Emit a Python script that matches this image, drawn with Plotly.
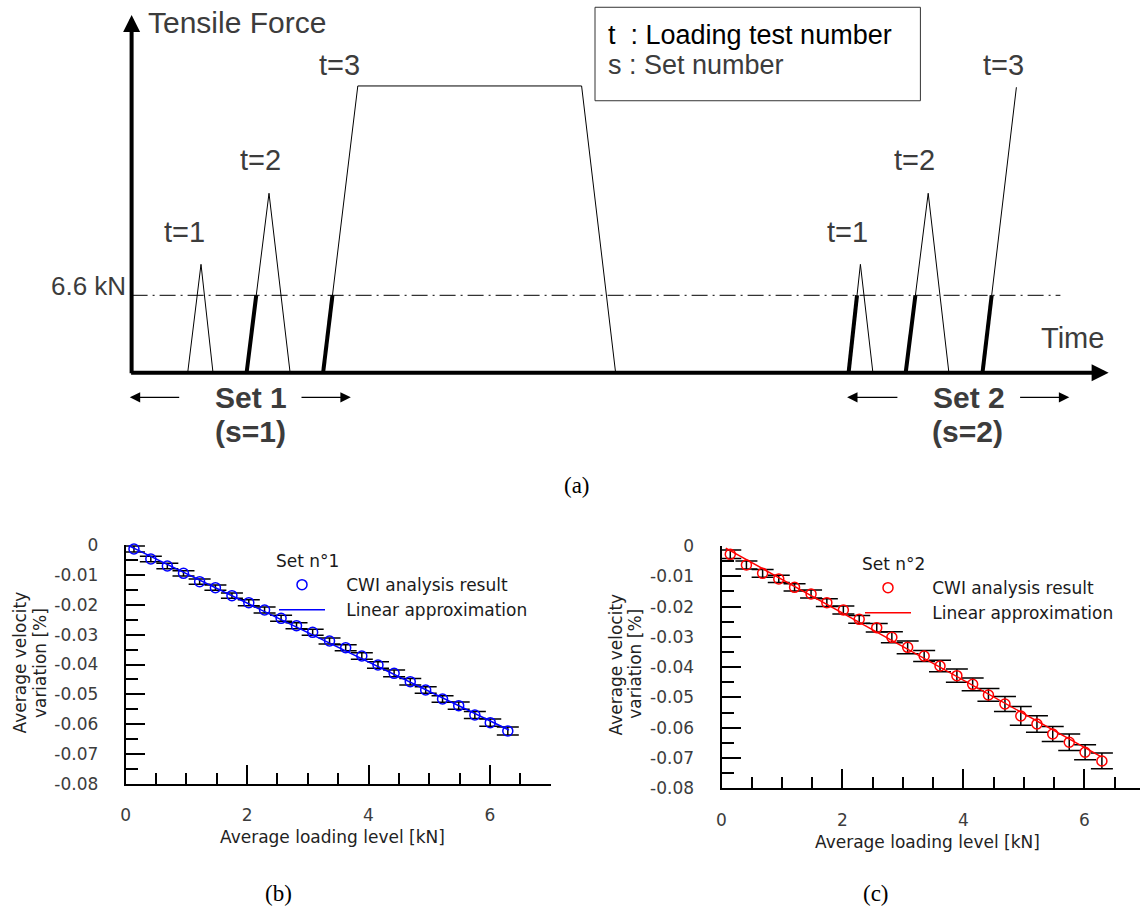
import numpy as np
import plotly.graph_objects as go

W, H = 1140, 911

# ---------------- (a) schematic loading history ----------------
# time in arbitrary units, force in kN-like units
threshold_kN = 6.6
set1_t1_time = [5.61, 6.94, 8.14]
set1_t1_force = [0, 9.24, 0]
set1_t2_time = [11.50, 13.74, 15.85]
set1_t2_force = [0, 15.30, 0]
set1_t3_time = [19.15, 22.62, 45.00, 48.40]
set1_t3_force = [0, 24.45, 24.45, 0]
set2_t1_time = [71.70, 72.88, 74.13]
set2_t1_force = [0, 9.24, 0]
set2_t2_time = [77.41, 79.66, 81.73]
set2_t2_force = [0, 15.30, 0]
set2_t3_time = [85.09, 88.48]
set2_t3_force = [0, 24.34]
threshold_time_end = 92.88

# ---------------- (b), (c) CWI results ----------------
load_set1 = [0.136, 0.414, 0.686, 0.952, 1.218, 1.478, 1.750, 2.028, 2.288, 2.560,
             2.814, 3.080, 3.358, 3.624, 3.890, 4.156, 4.422, 4.688, 4.942, 5.220,
             5.486, 5.752, 6.006, 6.295]
vel_set1 = [-0.00134, -0.00469, -0.00703, -0.00948, -0.01227, -0.01428, -0.01696,
            -0.01930, -0.02176, -0.02455, -0.02700, -0.02923, -0.03213, -0.03437,
            -0.03715, -0.04017, -0.04296, -0.04575, -0.04854, -0.05155, -0.05378,
            -0.05690, -0.05947, -0.06226]
err_set1 = [0.0010, 0.0009, 0.0009, 0.0009, 0.0009, 0.0009, 0.0009, 0.0010, 0.0010,
            0.0010, 0.0010, 0.0010, 0.0010, 0.0010, 0.0011, 0.0011, 0.0011, 0.0011,
            0.0011, 0.0011, 0.0012, 0.0012, 0.0012, 0.0013]
fit_set1_x = [0.047, 6.313]
fit_set1_y = [-0.00022, -0.06193]

load_set2 = [0.145, 0.412, 0.680, 0.947, 1.208, 1.481, 1.742, 2.015, 2.277, 2.567,
             2.817, 3.078, 3.351, 3.613, 3.892, 4.153, 4.414, 4.687, 4.949, 5.216,
             5.477, 5.750, 6.012, 6.290]
vel_set2 = [-0.00275, -0.00627, -0.00902, -0.01089, -0.01365, -0.01585, -0.01871,
            -0.02113, -0.02421, -0.02696, -0.03015, -0.03345, -0.03631, -0.03961,
            -0.04281, -0.04567, -0.04919, -0.05216, -0.05612, -0.05876, -0.06206,
            -0.06481, -0.06811, -0.07098]
err_set2 = [0.0014, 0.0013, 0.0013, 0.0012, 0.0012, 0.0013, 0.0013, 0.0013, 0.0013,
            0.0014, 0.0018, 0.0021, 0.0018, 0.0019, 0.0022, 0.0021, 0.0021, 0.0025,
            0.0031, 0.0027, 0.0025, 0.0027, 0.0025, 0.0026]
fit_set2_x = [0.07, 6.29]
fit_set2_y = [-0.0007, -0.0697]

y_tickvals = [0, -0.01, -0.02, -0.03, -0.04, -0.05, -0.06, -0.07, -0.08]
y_ticktext = ["0", "-0.01", "-0.02", "-0.03", "-0.04", "-0.05", "-0.06", "-0.07", "-0.08"]
x_tickvals = [0, 2, 4, 6]
x_ticktext = ["0", "2", "4", "6"]

SANS = "Liberation Sans"
DV = "DejaVu Sans"
GRAY = "#3c3c3c"
PAD = "\u00a0\u00a0\u00a0"  # visual gap between legend symbol and its label

fig = go.Figure()

# ---- schematic traces ----
tests = [
    (set1_t1_time, set1_t1_force, False),
    (set1_t2_time, set1_t2_force, True),
    (set1_t3_time, set1_t3_force, True),
    (set2_t1_time, set2_t1_force, True),
    (set2_t2_time, set2_t2_force, True),
    (set2_t3_time, set2_t3_force, True),
]
fig.add_trace(go.Scatter(x=[0, threshold_time_end], y=[threshold_kN, threshold_kN],
                         mode="lines", line=dict(color="black", width=1, dash="16px,5px,2px,5px"),
                         xaxis="x3", yaxis="y3", showlegend=False, hoverinfo="skip"))
for tm, fc, thick in tests:
    fig.add_trace(go.Scatter(x=tm, y=fc, mode="lines", line=dict(color="black", width=1),
                             xaxis="x3", yaxis="y3", showlegend=False, hoverinfo="skip"))
    if thick:
        t_cross = float(np.interp(threshold_kN, fc[:2], tm[:2]))
        fig.add_trace(go.Scatter(x=[tm[0], t_cross], y=[fc[0], threshold_kN], mode="lines",
                                 line=dict(color="black", width=4),
                                 xaxis="x3", yaxis="y3", showlegend=False, hoverinfo="skip"))

# ---- CWI plots ----
fig.add_trace(go.Scatter(
    x=load_set1, y=vel_set1, mode="markers", name=PAD + "CWI analysis result",
    marker=dict(symbol="circle-open", size=10, color="#0000ff", line=dict(width=1.5)),
    error_y=dict(type="data", array=err_set1, color="black", thickness=1.5, width=11),
    xaxis="x", yaxis="y", legend="legend", cliponaxis=False))
fig.add_trace(go.Scatter(
    x=fit_set1_x, y=fit_set1_y, mode="lines", name=PAD + "Linear approximation",
    line=dict(color="#0000ff", width=1.5), xaxis="x", yaxis="y", legend="legend"))
fig.add_trace(go.Scatter(
    x=load_set2, y=vel_set2, mode="markers", name=PAD + "CWI analysis result",
    marker=dict(symbol="circle-open", size=10, color="#ff0000", line=dict(width=1.5)),
    error_y=dict(type="data", array=err_set2, color="black", thickness=1.5, width=11),
    xaxis="x2", yaxis="y2", legend="legend2", cliponaxis=False))
fig.add_trace(go.Scatter(
    x=fit_set2_x, y=fit_set2_y, mode="lines", name=PAD + "Linear approximation",
    line=dict(color="#ff0000", width=1.5), xaxis="x2", yaxis="y2", legend="legend2"))


def xaxis_style(domain, rng, anchor):
    return dict(domain=domain, range=rng, anchor=anchor, showline=True, linecolor="black",
                linewidth=2, ticks="inside", ticklen=19, tickwidth=2, tickcolor="black",
                tickmode="array", tickvals=x_tickvals, ticktext=x_ticktext,
                tickfont=dict(family=DV, size=17, color=GRAY), ticklabelstandoff=15,
                minor=dict(ticks="inside", ticklen=11, tickwidth=2, tickcolor="black",
                           tickmode="array", tickvals=list(np.arange(0.5, 7.01, 0.5))),
                showgrid=False, zeroline=False, fixedrange=True, automargin=False)


def yaxis_style(domain, anchor):
    return dict(domain=domain, range=[-0.08, 0], anchor=anchor, showline=True,
                linecolor="black", linewidth=2, ticks="inside", ticklen=19, tickwidth=2,
                tickcolor="black", tickmode="array", tickvals=y_tickvals, ticktext=y_ticktext,
                tickfont=dict(family=DV, size=17, color=GRAY), ticklabelstandoff=22,
                minor=dict(ticks="inside", ticklen=12, tickwidth=2, tickcolor="black",
                           tickmode="array", tickvals=list(np.arange(-0.075, 0, 0.01))),
                showgrid=False, zeroline=False, fixedrange=True, automargin=False)


def P(xp, yp):
    return xp / W, 1 - yp / H


annotations = []

# axis arrows of schematic
arrow_common = dict(xref="x3", yref="y3", axref="x3", ayref="y3", showarrow=True, text="",
                    arrowcolor="black", standoff=0)
annotations.append(dict(x=0, y=30.5, ax=0, ay=-0.17, arrowhead=2, arrowwidth=4,
                        arrowsize=0.85, **arrow_common))
annotations.append(dict(x=97.7, y=0, ax=-0.2, ay=0, arrowhead=2, arrowwidth=4,
                        arrowsize=0.85, **arrow_common))
for tip, tail in [(-0.18, 4.91), (21.92, 16.84), (71.55, 76.73), (93.77, 88.70)]:
    annotations.append(dict(x=tip, y=-2.10, ax=tail, ay=-2.10, arrowhead=2, arrowwidth=1.3,
                            arrowsize=1.6, **arrow_common))


def tx(x, y, text, size=29, color=GRAY, xanchor="center", bold=False):
    return dict(x=x, y=y, xref="x3", yref="y3", text=(f"<b>{text}</b>" if bold else text),
                showarrow=False, xanchor=xanchor, yanchor="middle",
                font=dict(family=SANS, size=size, color=color))


annotations += [
    tx(1.44, 29.82, "Tensile Force", size=30, xanchor="left"),
    tx(-0.33, 7.41, "6.6 kN", size=26, xanchor="right"),
    tx(94.13, 2.93, "Time"),
    tx(5.26, 11.97, "t=1"), tx(12.90, 18.14, "t=2"), tx(20.80, 26.24, "t=3"),
    tx(71.63, 11.97, "t=1"), tx(78.24, 18.14, "t=2"), tx(87.16, 26.24, "t=3"),
    tx(11.92, -2.10, "Set 1", size=30, bold=True),
    tx(11.84, -5.03, "(s=1)", size=30, bold=True),
    tx(83.70, -2.10, "Set 2", size=30, bold=True),
    tx(83.59, -5.03, "(s=2)", size=30, bold=True),
    tx(47.40, 28.80, "t  : Loading test number", size=27, color="black", xanchor="left"),
    tx(47.42, 26.24, "s : Set number", size=27, xanchor="left"),
]

# axis titles for (b) and (c)
for (xp, yp, txt, ang) in [
    (332, 836.7, "Average loading level [kN]", 0),
    (19.6, 662.8, "Average velocity", -90),
    (39.3, 662.8, "variation [%]", -90),
    (927.6, 841.7, "Average loading level [kN]", 0),
    (616.3, 664.2, "Average velocity", -90),
    (635.6, 664.2, "variation [%]", -90),
]:
    x, y = P(xp, yp)
    annotations.append(dict(x=x, y=y, xref="paper", yref="paper", text=txt, textangle=ang,
                            showarrow=False, xanchor="center", yanchor="middle",
                            font=dict(family=DV, size=17, color="#222222")))

# captions
for (xp, yp, txt) in [(576.7, 485.7, "(a)"), (278.3, 893.3, "(b)"), (876.0, 893.3, "(c)")]:
    x, y = P(xp, yp)
    annotations.append(dict(x=x, y=y, xref="paper", yref="paper", text=txt, showarrow=False,
                            xanchor="center", yanchor="middle",
                            font=dict(family="Liberation Serif", size=23, color="black")))

shapes = [dict(type="rect", xref="x3", yref="y3", x0=46.34, x1=78.88, y0=23.19, y1=31.16,
               line=dict(color="#333333", width=1), fillcolor="rgba(0,0,0,0)")]

legend_common = dict(xanchor="left", yanchor="top", bgcolor="rgba(0,0,0,0)",
                     font=dict(family=DV, size=17, color="#1a1a1a"), itemwidth=46,
                     tracegroupgap=0)

fig.update_layout(
    width=W, height=H, autosize=False,
    margin=dict(l=0, r=0, t=0, b=0, pad=0, autoexpand=False),
    paper_bgcolor="white", plot_bgcolor="rgba(0,0,0,0)",
    xaxis=xaxis_style([125.7 / W, 550.6 / W], [0, 7], "y"),
    yaxis=yaxis_style([1 - 784 / H, 1 - 545 / H], "x"),
    xaxis2=xaxis_style([721.5 / W, 1.0], [0, 6.92], "y2"),
    yaxis2=yaxis_style([1 - 788.3 / H, 1 - 546 / H], "x2"),
    xaxis3=dict(domain=[0, 1], range=[-13.16, 100.84], anchor="y3", visible=False,
                fixedrange=True),
    yaxis3=dict(domain=[0, 1], range=[-45.90, 31.78], anchor="x3", visible=False,
                fixedrange=True),
    legend=dict(title=dict(text="Set n°1", font=dict(family=DV, size=17, color="#1a1a1a")),
                x=274 / W, y=1 - 545 / H, **legend_common),
    legend2=dict(title=dict(text="Set n°2", font=dict(family=DV, size=17, color="#1a1a1a")),
                 x=860 / W, y=1 - 548 / H, **legend_common),
    annotations=annotations,
    shapes=shapes,
)

fig.write_html(
    "out.html",
    config={"displayModeBar": False},
    post_script="document.body.style.margin='0';document.body.style.overflow='hidden';",
)
